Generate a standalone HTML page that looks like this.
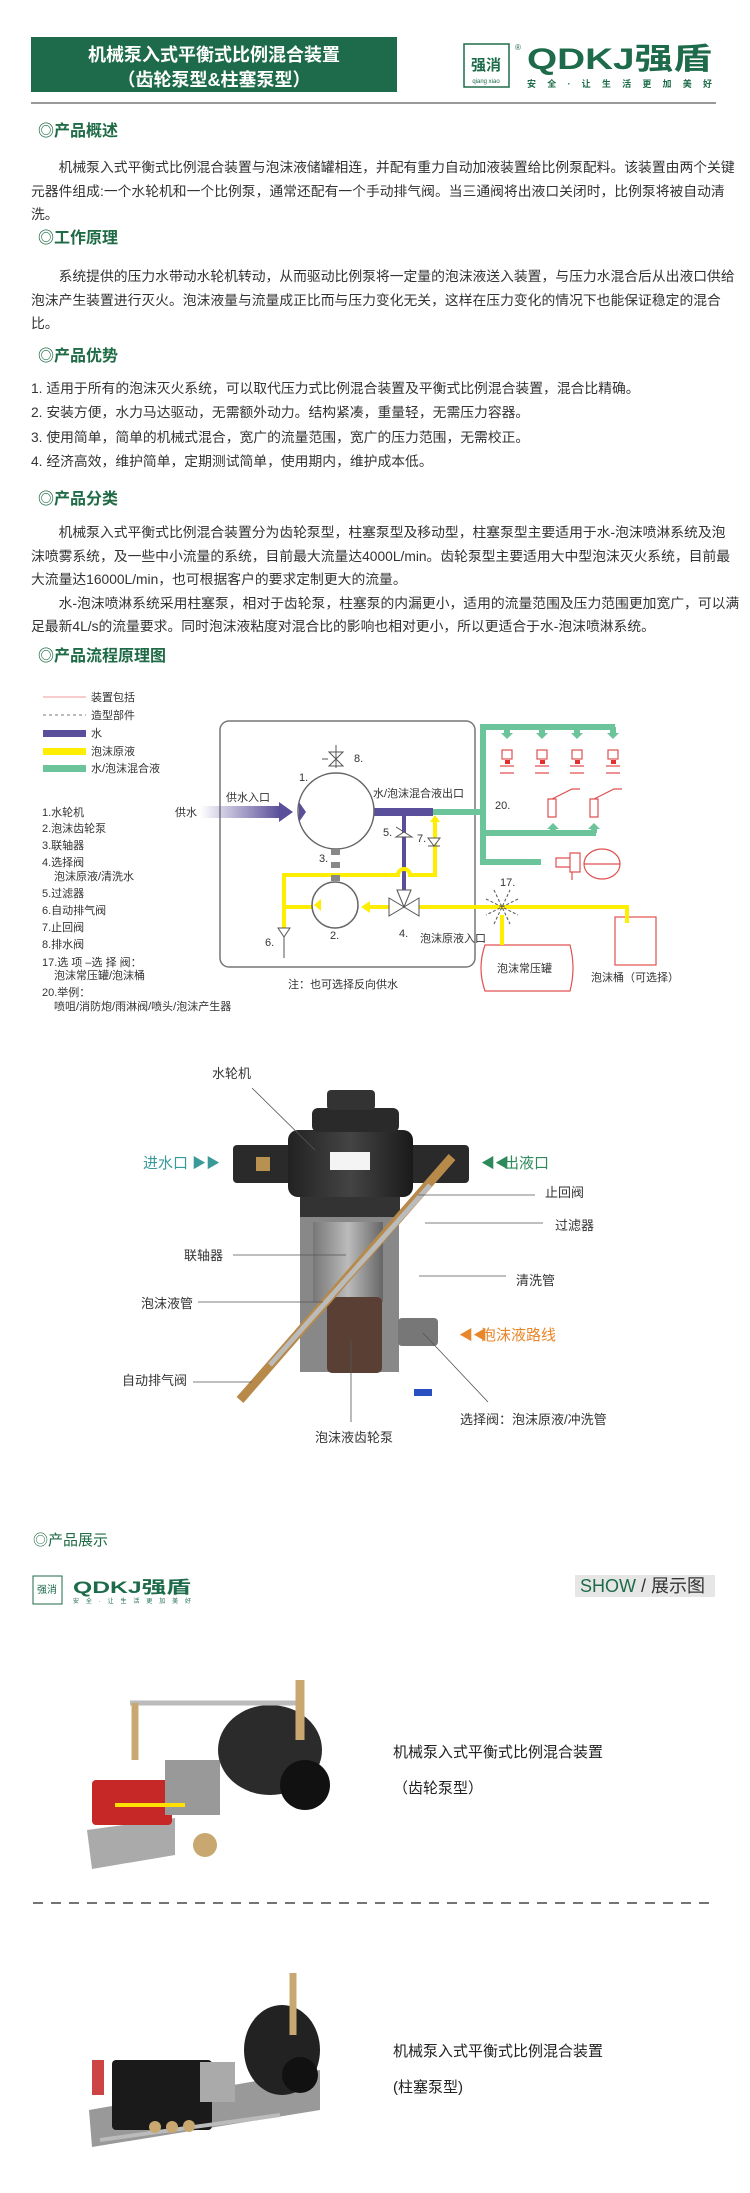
<!DOCTYPE html>
<html><head><meta charset="utf-8">
<style>
*{margin:0;padding:0;box-sizing:border-box}
body{width:750px;height:2193px;position:relative;background:#fff;font-family:"Liberation Sans","Noto Sans CJK SC",sans-serif;color:#333;overflow:hidden}
.a{position:absolute;white-space:nowrap}
.p{font-size:13.8px;line-height:23.5px;color:#333}
.h{font-size:16px;line-height:20px;color:#1f6b45;font-weight:bold}
svg{position:absolute;left:0;top:0}
</style></head><body>
<svg width="750" height="2193" viewBox="0 0 750 2193" font-family="Liberation Sans, Noto Sans CJK SC, sans-serif">
<defs>
<linearGradient id="pg" x1="0" x2="1"><stop offset="0" stop-color="#5a4f9a" stop-opacity="0"/><stop offset="1" stop-color="#5a4f9a"/></linearGradient>
<linearGradient id="bk" x1="0" x2="1"><stop offset="0" stop-color="#222"/><stop offset=".5" stop-color="#444"/><stop offset="1" stop-color="#1a1a1a"/></linearGradient>
<linearGradient id="gr" x1="0" x2="1"><stop offset="0" stop-color="#777"/><stop offset=".5" stop-color="#bbb"/><stop offset="1" stop-color="#666"/></linearGradient>
</defs>
<!-- header -->
<rect x="31" y="37" width="366" height="55" fill="#1d6b4a"/>
<text x="214" y="61" font-size="18" font-weight="bold" fill="#fff" text-anchor="middle">机械泵入式平衡式比例混合装置</text>
<text x="214" y="86" font-size="18" font-weight="bold" fill="#fff" text-anchor="middle">（齿轮泵型&amp;柱塞泵型）</text>
<rect x="464" y="44" width="45" height="43" fill="none" stroke="#1d6b4a" stroke-width="1.5"/>
<text x="486" y="70" font-size="15" fill="#1d6b4a" text-anchor="middle" font-weight="bold">强消</text>
<text x="486" y="83" font-size="6" fill="#1d6b4a" text-anchor="middle">qiang xiao</text>
<text x="515" y="50" font-size="8" fill="#1d6b4a">®</text>
<text x="527" y="69" font-size="30" fill="#1d6b4a" font-weight="bold" textLength="185" lengthAdjust="spacingAndGlyphs">QDKJ强盾</text>
<text x="527" y="87" font-size="9" fill="#1d6b4a" font-weight="bold" textLength="185" lengthAdjust="spacing">安全·让生活更加美好</text>
<rect x="31" y="102" width="685" height="2" fill="#999"/>

<!-- flow diagram -->
<g font-size="11" fill="#333">
<line x1="43" y1="697" x2="86" y2="697" stroke="#e99" stroke-width="1"/>
<line x1="43" y1="715" x2="86" y2="715" stroke="#777" stroke-width="1" stroke-dasharray="3,3"/>
<rect x="43" y="730" width="43" height="7" fill="#5a4f9a"/>
<rect x="43" y="748" width="43" height="7" fill="#ffee00"/>
<rect x="43" y="765" width="43" height="7" fill="#6cc49a"/>
<text x="91" y="701">装置包括</text><text x="91" y="719">造型部件</text><text x="91" y="737">水</text><text x="91" y="755">泡沫原液</text><text x="91" y="772">水/泡沫混合液</text>
<text x="42" y="816">1.水轮机</text><text x="42" y="832">2.泡沫齿轮泵</text><text x="42" y="849">3.联轴器</text><text x="42" y="866">4.选择阀</text><text x="54" y="880">泡沫原液/清洗水</text><text x="42" y="897">5.过滤器</text><text x="42" y="914">6.自动排气阀</text><text x="42" y="931">7.止回阀</text><text x="42" y="948">8.排水阀</text><text x="42" y="966">17.选 项 –选 择 阀：</text><text x="54" y="979">泡沫常压罐/泡沫桶</text><text x="42" y="996">20.举例：</text><text x="54" y="1010">喷咀/消防炮/雨淋阀/喷头/泡沫产生器</text>
</g>
<rect x="220" y="721" width="255" height="246" rx="9" fill="none" stroke="#777" stroke-width="1.5"/>
<!-- green -->
<g stroke="#6cc49a" stroke-width="6" fill="none">
<path d="M433 812 H483 V727 H615"/>
<path d="M483 812 V862 H541"/>
<path d="M483 833 H596"/>
<path d="M507 727V734 M542 727V734 M577 727V734 M613 727V734"/>
<path d="M553 833V828 M594 833V828"/>
</g>
<g fill="#6cc49a"><path d="M501 733h12l-6 6z"/><path d="M536 733h12l-6 6z"/><path d="M571 733h12l-6 6z"/><path d="M607 733h12l-6 6z"/><path d="M547 829h12l-6 -6z"/><path d="M588 829h12l-6 -6z"/></g>
<!-- red devices -->
<g stroke="#e05050" fill="none" stroke-width="1.2">
<rect x="502" y="750" width="10" height="9"/><rect x="537" y="750" width="10" height="9"/><rect x="572" y="750" width="10" height="9"/><rect x="608" y="750" width="10" height="9"/>
<path d="M500 766h14M535 766h14M570 766h14M606 766h14M500 773h14M535 773h14M570 773h14M606 773h14"/>
<path d="M548 799h8v18h-8zM590 799h8v18h-8zM552 799l20-10 8 0M594 799l20-10 8 0"/>
<path d="M556 858h14v9h-14zM570 853h10v19h-10z"/><ellipse cx="602" cy="864" rx="18" ry="15"/><path d="M584 864h36M572 872v8"/>
<rect x="615" y="917" width="41" height="48"/>
<path d="M485 945h85q6 23 0 46h-85q-8-23 0-46z"/>
</g>
<g fill="#e03030"><rect x="505" y="760" width="5" height="4"/><rect x="540" y="760" width="5" height="4"/><rect x="575" y="760" width="5" height="4"/><rect x="611" y="760" width="5" height="4"/></g>
<!-- purple -->
<rect x="200" y="806" width="80" height="12" fill="url(#pg)"/>
<path d="M279 802 L293 812 L279 822z" fill="#5a4f9a"/>
<path d="M374 808H433V816H374z" fill="#5a4f9a"/>
<path d="M404 812V890" stroke="#5a4f9a" stroke-width="4"/>
<!-- yellow -->
<g stroke="#ffee00" stroke-width="4" fill="none">
<path d="M284 928V875H398a6 6 0 0 1 12 0H435V820"/>
<path d="M284 907H320"/>
<path d="M364 907H395M413 907H627V923"/>
<path d="M502 915V945"/>
</g>
<path d="M430 822l5-7 5 7z" fill="#ffee00"/>
<path d="M370 901l-9 6 9 6z" fill="#ffee00"/>
<!-- circles -->
<circle cx="336" cy="811" r="38" fill="#fff" stroke="#666" stroke-width="1.5"/>
<path d="M299 802l7 10-7 10z" fill="#5a4f9a"/>
<circle cx="335" cy="905" r="23" fill="#fff" stroke="#666" stroke-width="1.5"/>
<path d="M321 899l-7 6 7 6z" fill="#ffee00"/>
<g fill="#888"><rect x="331" y="849" width="9" height="6"/><rect x="331" y="862" width="9" height="6"/><rect x="331" y="875" width="9" height="6"/></g>
<g stroke="#555" fill="#fff" stroke-width="1">
<path d="M329 752l14 14h-14l14-14z"/><path d="M336 745v23M322 759h6"/>
<path d="M396 827l8 5-8 5h16l-8-5z" /><path d="M428 838h12l-6 8zM428 846h12"/>
<path d="M389 898l15 9-15 9zM419 898l-15 9 15 9zM397 890l7 17 7-17z"/>
<path d="M278 928h12l-6 9z"/><path d="M284 937v21"/>
</g>
<g stroke="#555" stroke-dasharray="3,2" fill="none"><path d="M486 899l16 8-16 8M518 899l-16 8 16 8M494 890l8 17 8-17M494 924l8-17 8 17"/></g>
<g font-size="11" fill="#333">
<text x="226" y="801">供水入口</text><text x="175" y="816">供水</text><text x="373" y="797">水/泡沫混合液出口</text><text x="495" y="809">20.</text>
<text x="299" y="781">1.</text><text x="354" y="762">8.</text><text x="319" y="862">3.</text><text x="330" y="939">2.</text><text x="399" y="937">4.</text><text x="265" y="946">6.</text><text x="383" y="836">5.</text><text x="417" y="842">7.</text><text x="500" y="886">17.</text>
<text x="420" y="942">泡沫原液入口</text><text x="288" y="988">注：也可选择反向供水</text><text x="497" y="972">泡沫常压罐</text><text x="591" y="981">泡沫桶（可选择）</text>
</g>

<!-- machine picture -->
<g>
<rect x="300" y="1217" width="99" height="155" fill="#888"/>
<rect x="313" y="1222" width="70" height="80" fill="url(#gr)"/>
<rect x="233" y="1145" width="70" height="38" rx="4" fill="#2a2a2a"/>
<rect x="400" y="1145" width="69" height="38" rx="4" fill="#2a2a2a"/>
<rect x="288" y="1130" width="125" height="67" rx="10" fill="url(#bk)"/>
<rect x="312" y="1108" width="87" height="24" rx="6" fill="#2a2a2a"/>
<rect x="327" y="1090" width="48" height="20" rx="4" fill="#333"/>
<rect x="300" y="1197" width="100" height="20" fill="#333"/>
<rect x="330" y="1152" width="40" height="18" fill="#f4f4f4"/>
<rect x="327" y="1297" width="55" height="76" rx="5" fill="#5a3f35"/>
<rect x="398" y="1318" width="40" height="28" rx="4" fill="#777"/>
<path d="M452 1157 L240 1400" stroke="#b88a4a" stroke-width="9"/>
<path d="M430 1185 L270 1365" stroke="#bbb" stroke-width="5"/>
<rect x="256" y="1157" width="14" height="14" fill="#b89050"/>
<rect x="414" y="1389" width="18" height="7" fill="#2a4fc0"/>
</g>
<g stroke="#555" stroke-width="0.8">
<path d="M252 1088L315 1150M233 1255H346M198 1302H323M418 1195H535M425 1223H543M419 1276H506M193 1382H252M351 1340V1422M423 1333L488 1402"/>
</g>
<g font-size="13" fill="#333">
<text x="212" y="1078">水轮机</text><text x="545" y="1197">止回阀</text><text x="555" y="1230">过滤器</text><text x="184" y="1260">联轴器</text><text x="516" y="1285">清洗管</text><text x="141" y="1308">泡沫液管</text><text x="122" y="1385">自动排气阀</text><text x="460" y="1424">选择阀：泡沫原液/冲洗管</text><text x="315" y="1442">泡沫液齿轮泵</text>
<text x="143" y="1168" fill="#3a9a9a" font-size="15">进水口</text><text x="192" y="1168" fill="#3a9a9a" font-size="14">▶▶</text>
<text x="481" y="1168" fill="#2e8a5a" font-size="14">◀◀</text><text x="504" y="1168" fill="#2e8a5a" font-size="15">出液口</text>
<text x="459" y="1340" fill="#e8862a" font-size="14">◀◀</text><text x="481" y="1340" fill="#e8862a" font-size="15">泡沫液路线</text>
</g>

<!-- show section -->
<rect x="33" y="1576" width="29" height="28" fill="none" stroke="#1d6b4a"/>
<text x="47" y="1593" font-size="10" fill="#1d6b4a" text-anchor="middle">强消</text>
<text x="73" y="1593" font-size="17" fill="#1d6b4a" font-weight="bold" textLength="118" lengthAdjust="spacingAndGlyphs">QDKJ强盾</text>
<text x="73" y="1603" font-size="6" fill="#1d6b4a" textLength="118" lengthAdjust="spacing">安全·让生活更加美好</text>
<rect x="575" y="1575" width="140" height="22" fill="#e6e6e6"/>
<text x="580" y="1592" font-size="18"><tspan fill="#1d6b4a">SHOW</tspan><tspan fill="#333"> / 展示图</tspan></text>
<!-- product 1 -->
<g>
<path d="M87 1830 L175 1818 L175 1855 L92 1869z" fill="#aaa"/>
<rect x="92" y="1780" width="80" height="45" rx="4" fill="#c62828"/>
<rect x="165" y="1760" width="55" height="55" fill="#999"/>
<ellipse cx="270" cy="1750" rx="52" ry="45" fill="#2b2b2b"/>
<circle cx="305" cy="1785" r="25" fill="#111"/>
<path d="M130 1703 H300" stroke="#bbb" stroke-width="5"/>
<path d="M135 1703 V1760" stroke="#c8a870" stroke-width="7"/>
<path d="M300 1680 V1740" stroke="#c8a870" stroke-width="9"/>
<circle cx="205" cy="1845" r="12" fill="#c8a870"/>
<path d="M115 1805h70" stroke="#ffe000" stroke-width="4"/>
</g>
<g font-size="15" fill="#222"><text x="393" y="1757">机械泵入式平衡式比例混合装置</text><text x="393" y="1793">（齿轮泵型）</text>
<text x="393" y="2056">机械泵入式平衡式比例混合装置</text><text x="393" y="2092">(柱塞泵型)</text></g>
<line x1="33" y1="1903" x2="715" y2="1903" stroke="#222" stroke-width="1.2" stroke-dasharray="10,8"/>
<!-- product 2 -->
<g>
<path d="M89 2110 L320 2070 L320 2110 L92 2147z" fill="#999"/>
<rect x="112" y="2060" width="100" height="70" rx="4" fill="#1a1a1a"/>
<rect x="200" y="2062" width="35" height="40" fill="#aaa"/>
<ellipse cx="282" cy="2050" rx="38" ry="45" fill="#222"/>
<circle cx="300" cy="2075" r="18" fill="#111"/>
<path d="M293 1973V2035" stroke="#c8a870" stroke-width="7"/>
<rect x="92" y="2060" width="12" height="35" fill="#c44"/>
<path d="M100 2140 L280 2115" stroke="#bbb" stroke-width="4"/>
<circle cx="155" cy="2127" r="6" fill="#c8a870"/><circle cx="172" cy="2127" r="6" fill="#c8a870"/><circle cx="189" cy="2126" r="6" fill="#c8a870"/>
</g>
</svg>

<div class="a h" style="left:38px;top:122px">◎产品概述</div>
<div class="a p" style="left:31px;top:156px">　　机械泵入式平衡式比例混合装置与泡沫液储罐相连，并配有重力自动加液装置给比例泵配料。该装置由两个关键<br>元器件组成:一个水轮机和一个比例泵，通常还配有一个手动排气阀。当三通阀将出液口关闭时，比例泵将被自动清<br>洗。</div>
<div class="a h" style="left:38px;top:229px">◎工作原理</div>
<div class="a p" style="left:31px;top:265px">　　系统提供的压力水带动水轮机转动，从而驱动比例泵将一定量的泡沫液送入装置，与压力水混合后从出液口供给<br>泡沫产生装置进行灭火。泡沫液量与流量成正比而与压力变化无关，这样在压力变化的情况下也能保证稳定的混合<br>比。</div>
<div class="a h" style="left:38px;top:347px">◎产品优势</div>
<div class="a p" style="left:31px;top:377px;line-height:24.3px">1. 适用于所有的泡沫灭火系统，可以取代压力式比例混合装置及平衡式比例混合装置，混合比精确。<br>2. 安装方便，水力马达驱动，无需额外动力。结构紧凑，重量轻，无需压力容器。<br>3. 使用简单，简单的机械式混合，宽广的流量范围，宽广的压力范围，无需校正。<br>4. 经济高效，维护简单，定期测试简单，使用期内，维护成本低。</div>
<div class="a h" style="left:38px;top:490px">◎产品分类</div>
<div class="a p" style="left:31px;top:521px">　　机械泵入式平衡式比例混合装置分为齿轮泵型，柱塞泵型及移动型，柱塞泵型主要适用于水-泡沫喷淋系统及泡<br>沫喷雾系统，及一些中小流量的系统，目前最大流量达4000L/min。齿轮泵型主要适用大中型泡沫灭火系统，目前最<br>大流量达16000L/min，也可根据客户的要求定制更大的流量。<br>　　水-泡沫喷淋系统采用柱塞泵，相对于齿轮泵，柱塞泵的内漏更小，适用的流量范围及压力范围更加宽广，可以满<br>足最新4L/s的流量要求。同时泡沫液粘度对混合比的影响也相对更小，所以更适合于水-泡沫喷淋系统。</div>
<div class="a h" style="left:38px;top:647px">◎产品流程原理图</div>
<div class="a" style="left:33px;top:1531px;font-size:15px;line-height:20px;color:#1f6b45">◎产品展示</div>
</body></html>
